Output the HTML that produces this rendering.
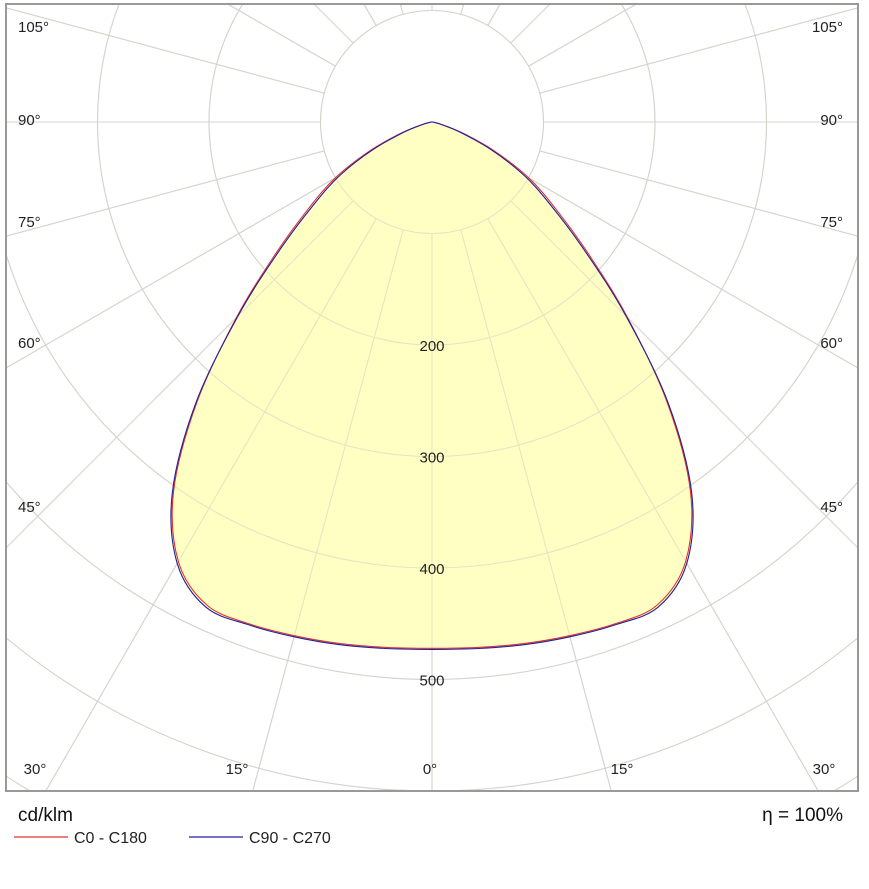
<!DOCTYPE html>
<html><head><meta charset="utf-8"><style>
html,body{margin:0;background:#fff;width:869px;height:889px;overflow:hidden;font-family:"Liberation Sans",Arial,sans-serif}
svg{position:absolute;left:0;top:0;overflow:hidden}
</style></head><body>
<svg id="chart" width="869" height="889">
<defs><clipPath id="clip"><rect x="6" y="4" width="852" height="787"/></clipPath></defs>
<rect x="6" y="4" width="852" height="787" fill="#fff"/>
<g id="grid" clip-path="url(#clip)"></g>
<g id="series" clip-path="url(#clip)"></g>
<g id="labels" font-size="15" fill="#222"></g>
<rect x="6" y="4" width="852" height="787" fill="none" stroke="#999" stroke-width="2"/>
<text x="18" y="821" font-size="19" fill="#111">cd/klm</text>
<text x="843" y="821" font-size="19" fill="#111" text-anchor="end">η = 100%</text>
<line x1="14" y1="837" x2="68" y2="837" stroke="#e03030" stroke-width="1.2"/>
<text x="74" y="843" font-size="16" fill="#222">C0 - C180</text>
<line x1="189" y1="837" x2="243" y2="837" stroke="#2020a0" stroke-width="1.2"/>
<text x="249" y="843" font-size="16" fill="#222">C90 - C270</text>
</svg>
<script>
const angles=[0,5,10,15,20,25,30,35,40,45,50,55,60,65,70,75,80,85,90];
const c0c180=[472,473,475,477,479,478,455,404,328,248,182,135,100,62,30,10,3,1,0];
const c90c270=[473,474,476,478,480,480,457,406,330,246,178,130,95,58,27,9,2,1,0];
const ringValues=[100,200,300,400,500,600,700,800,900];
const ringLabels=[200,300,400,500];
const sideLabels=["105°","90°","75°","60°","45°"];
const bottomLabels=["30°","15°","0°","15°","30°"];

const sideY=[27,120,222,343,507];
const bottomX=[35,237,430,622,824];
const cx=432,cy=122,k=111.5/100;
const ns="http://www.w3.org/2000/svg";
function rPx(v){return v*k;}
function pt(v,deg){const a=deg*Math.PI/180;return [cx+rPx(v)*Math.sin(a),cy+rPx(v)*Math.cos(a)];}
function mk(tag,attrs,parent){const e=document.createElementNS(ns,tag);for(const a in attrs)e.setAttribute(a,attrs[a]);parent.appendChild(e);return e;}
const grid=document.getElementById('grid'),ser=document.getElementById('series'),lab=document.getElementById('labels');
function drawGrid(parent,color,name){
 ringValues.forEach(v=>{
  const c=mk('circle',{cx:cx,cy:cy,r:rPx(v),fill:'none',stroke:color,'stroke-width':1.1},parent);
  
  
 });
 for(let d=0;d<360;d+=15){
  const [x1,y1]=pt(100,d),[x2,y2]=pt(1200,d);
  const l=mk('line',{x1:x1,y1:y1,x2:x2,y2:y2,stroke:color,'stroke-width':1.1},parent);
  
  
 }
}
drawGrid(grid,'#dadada','grid');
function pathFor(vals){
 let pts=[];
 for(let i=angles.length-1;i>=1;i--)pts.push(pt(vals[i],-angles[i]));
 angles.forEach((a,i)=>pts.push(pt(vals[i],a)));
 let d='M'+pts[0][0].toFixed(1)+','+pts[0][1].toFixed(1);
 for(let i=0;i<pts.length-1;i++){
  const p0=pts[Math.max(0,i-1)],p1=pts[i],p2=pts[i+1],p3=pts[Math.min(pts.length-1,i+2)];
  const c1=[p1[0]+(p2[0]-p0[0])/6,p1[1]+(p2[1]-p0[1])/6];
  const c2=[p2[0]-(p3[0]-p1[0])/6,p2[1]-(p3[1]-p1[1])/6];
  d+='C'+c1[0].toFixed(1)+','+c1[1].toFixed(1)+' '+c2[0].toFixed(1)+','+c2[1].toFixed(1)+' '+p2[0].toFixed(1)+','+p2[1].toFixed(1);
 }
 return d+'Z';
}
const fill=mk('path',{d:pathFor(c90c270),fill:'#ffffc4',stroke:'none'},ser);


const og=mk('g',{opacity:0.55},ser);


drawGrid(og,'#d0d0c0','grid-overlay');
const pr=mk('path',{d:pathFor(c0c180),fill:'none',stroke:'#e03030','stroke-width':1.1},ser);


const pb=mk('path',{d:pathFor(c90c270),fill:'none',stroke:'#2020a0','stroke-width':1.1},ser);


ringLabels.forEach(v=>{
 const t=mk('text',{x:cx,y:cy+rPx(v)+6,'text-anchor':'middle'},lab);
 t.textContent=v;
 
 
});
sideLabels.forEach((s,i)=>{
 const t1=mk('text',{x:18,y:sideY[i]+5},lab);t1.textContent=s;
 
 
 const t2=mk('text',{x:843,y:sideY[i]+5,'text-anchor':'end'},lab);t2.textContent=s;
 
 
});
bottomLabels.forEach((s,i)=>{
 const t=mk('text',{x:bottomX[i],y:774,'text-anchor':'middle'},lab);t.textContent=s;
 
 
});
</script>
</body></html>
